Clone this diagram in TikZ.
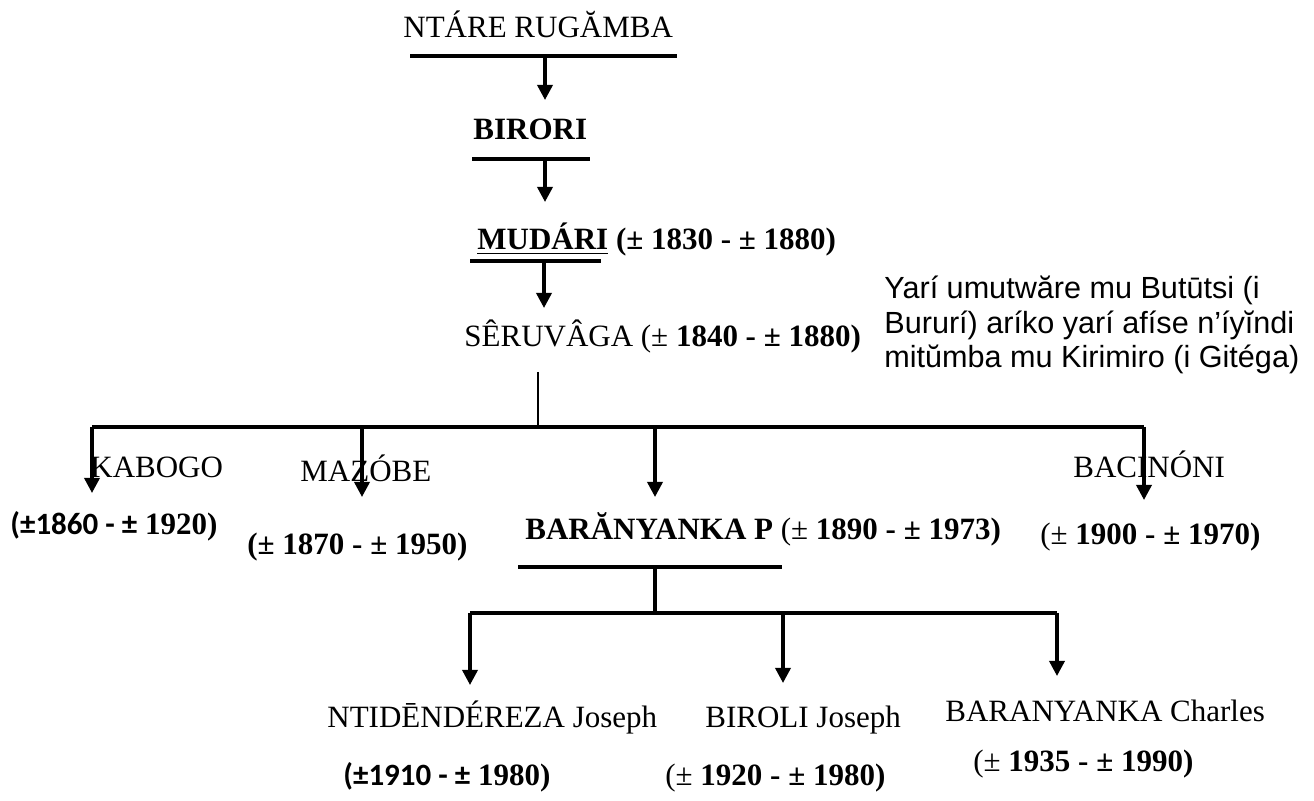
\documentclass[tikz,border=0pt]{standalone}
\usepackage{fontspec}
\setmainfont{Liberation Serif}
\newfontfamily\notefont{Liberation Sans}
\newfontfamily\calbits{Carlito}
\usetikzlibrary{arrows.meta}
\tikzset{ lbl/.style={inner sep=0pt,anchor=base west,font=\fontsize{15.5}{17.25}\selectfont},
  bar/.style={-,line width=2pt},
  link/.style={-{Triangle[length=7.5pt,width=7.5pt]},line width=1.7pt} }
\newcommand{\yrs}[2]{(± \textbf{#1 - ± #2)}}

\begin{document}
\begin{tikzpicture}[x=0.5pt,y=-0.5pt]
   \useasboundingbox (0,0) rectangle (1314,801);
   % line of descent
   \node[lbl] (ntare) at (403,38) {NTÁRE RUGĂMBA};
   \node[lbl] (birori) at (473,140) {\textbf{BIRORI}};
   \node[lbl] (mudari) at (477,250) {\textbf{\underline{MUDÁRI} (± 1830 - ± 1880)}};
   \node[lbl] (seruvaga) at (464,347) {SÊRUVÂGA \yrs{1840}{1880}};
   \node[lbl,align=left,font=\notefont\fontsize{15.3}{17.25}\selectfont] (note) at (884,368)
     {Yarí umutwăre mu Butūtsi (i\\Bururí) aríko yarí afíse n’íyĭndi\\mitŭmba mu Kirimiro (i Gitéga)};
   \coordinate (ntareB) at (545,56);    \coordinate (biroriT) at (545,100);
   \coordinate (biroriB) at (545,159);  \coordinate (mudariT) at (545,202);
   \coordinate (mudariB) at (544,261);  \coordinate (seruvagaT) at (544,308);
   \draw[bar] (410,56) -- (677,56);
   \draw[bar] (472,159) -- (590,159);
   \draw[bar] (470,261) -- (601,261);
   \draw[link] (ntareB) -- (biroriT);
   \draw[link] (biroriB) -- (mudariT);
   \draw[link] (mudariB) -- (seruvagaT);
   % children of Seruvaga
   \node[lbl] (kabogo) at (90,478) {KABOGO};
   \node[lbl] (mazobe) at (300,482) {MAZÓBE};
   \node[lbl] (baranyanka) at (525,540) {\textbf{BARĂNYANKA P} \yrs{1890}{1973}};
   \node[lbl] (bacinoni) at (1073,478) {BACINÓNI};
   \node[lbl] (kabogoD) at (10,535) {{\calbits\bfseries (±1860 - ±} \textbf{1920)}};
   \node[lbl] (mazobeD) at (247,555) {\textbf{(± 1870 - ± 1950)}};
   \node[lbl] (bacinoniD) at (1040,545) {\yrs{1900}{1970}};
   \coordinate (seruvagaB) at (538,372);  \coordinate (busS) at (538,427);
   \coordinate (busK) at (92,427);   \coordinate (kabogoT) at (92,493);
   \coordinate (busM) at (362,427);  \coordinate (mazobeT) at (362,497);
   \coordinate (busP) at (655,427);  \coordinate (baranyankaT) at (655,497);
   \coordinate (busC) at (1144,427); \coordinate (bacinoniT) at (1144,500);
   \draw[-,line width=1pt] (seruvagaB) -- (busS);
   \draw[bar] (busK) -- (busC);
   \draw[link] (busK) -- (kabogoT);
   \draw[link] (busM) -- (mazobeT);
   \draw[link] (busP) -- (baranyankaT);
   \draw[link] (busC) -- (bacinoniT);
   % children of Baranyanka
   \node[lbl] (ntidendereza) at (327,728) {NTIDĒNDÉREZA Joseph};
   \node[lbl] (biroli) at (705,728) {BIROLI Joseph};
   \node[lbl] (charles) at (945,722) {BARANYANKA Charles};
   \node[lbl] (ntidenderezaD) at (343,786) {{\calbits\bfseries (±1910 - ±} \textbf{1980)}};
   \node[lbl] (biroliD) at (665,786) {\yrs{1920}{1980}};
   \node[lbl] (charlesD) at (973,772) {\yrs{1935}{1990}};
   \coordinate (baranyankaB) at (655,567); \coordinate (busB) at (655,613);
   \coordinate (busN) at (470,613);  \coordinate (ntiderezaT) at (470,685);
   \coordinate (busR) at (783,613);  \coordinate (biroliT) at (783,683);
   \coordinate (busH) at (1057,613); \coordinate (charlesT) at (1057,676);
   \draw[bar] (518,567) -- (782,567);
   \draw[-,line width=1.7pt] (baranyankaB) -- (busB);
   \draw[bar] (busN) -- (busH);
   \draw[link] (busN) -- (ntiderezaT);
   \draw[link] (busR) -- (biroliT);
   \draw[link] (busH) -- (charlesT);
\end{tikzpicture}
\end{document}
